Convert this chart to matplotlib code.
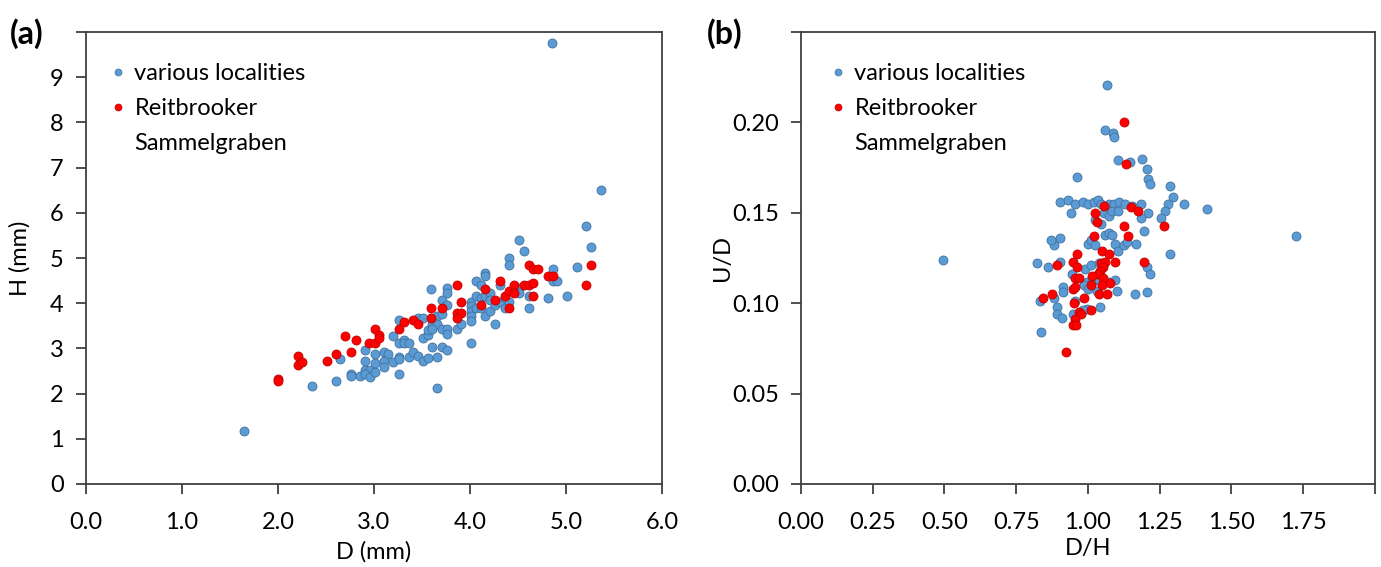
import numpy as np
import matplotlib.pyplot as plt
from matplotlib.lines import Line2D

plt.rcParams['font.family'] = ['Lato', 'DejaVu Sans']

# panel (a): shell diameter D vs height H (mm)
d_various = [1.65, 2.35, 2.60, 2.65, 2.76, 2.76, 2.85, 2.91, 2.91, 2.91, 2.96, 2.91, 2.96,
             3.01, 3.01, 3.01, 3.10, 3.15, 3.10, 3.10, 3.20, 3.26, 3.20, 3.26, 3.31, 3.31,
             3.36, 3.26, 3.26, 3.26, 3.36, 3.41, 3.46, 3.51, 3.56, 3.46, 3.51, 3.51, 3.56,
             3.56, 3.59, 3.60, 3.66, 3.60, 3.66, 3.71, 3.76, 3.76, 3.60, 3.76, 3.76, 3.71,
             3.76, 3.71, 3.71, 3.76, 3.66, 3.60, 3.66, 3.86, 3.91, 4.01, 4.01, 4.01, 4.01,
             4.01, 4.01, 4.06, 4.06, 4.06, 4.11, 4.11, 4.11, 4.16, 4.16, 4.16, 4.16, 4.21,
             4.21, 4.21, 4.26, 4.26, 4.31, 4.31, 4.36, 4.36, 4.41, 4.41, 4.41, 4.51, 4.56,
             4.51, 4.51, 4.61, 4.61, 4.81, 4.86, 4.91, 4.86, 5.01, 5.11, 5.21, 5.26, 5.36,
             4.85]
h_various = [1.17, 2.17, 2.27, 2.77, 2.43, 2.38, 2.38, 2.97, 2.73, 2.53, 2.53, 2.43, 2.36,
             2.48, 2.88, 2.68, 2.92, 2.88, 2.73, 2.58, 2.69, 3.63, 3.27, 3.13, 3.19, 3.13,
             3.13, 2.82, 2.76, 2.43, 2.82, 2.92, 2.83, 2.73, 2.78, 3.68, 3.68, 3.22, 3.30,
             3.40, 4.32, 3.45, 3.71, 3.53, 3.53, 3.42, 3.42, 3.32, 3.42, 4.34, 4.23, 4.08,
             3.97, 3.77, 3.03, 2.97, 2.82, 3.03, 2.13, 3.42, 3.53, 4.03, 3.94, 3.83, 3.72,
             3.60, 3.13, 3.89, 4.17, 4.50, 3.89, 4.12, 4.40, 4.66, 4.60, 4.17, 3.72, 4.23,
             4.08, 3.83, 3.97, 3.53, 4.03, 4.40, 4.12, 3.89, 4.03, 5.00, 4.85, 5.40, 5.15,
             4.34, 4.23, 4.17, 3.89, 4.12, 4.50, 4.50, 4.75, 4.17, 4.81, 5.70, 5.25, 6.51,
             9.76]
d_reit = [2.00, 2.00, 2.21, 2.21, 2.25, 2.51, 2.60, 2.70, 2.76, 2.81, 2.95, 3.01, 3.01,
          3.05, 3.05, 3.31, 3.26, 3.41, 3.46, 3.59, 3.59, 3.71, 3.86, 3.86, 3.91, 3.86,
          3.91, 4.11, 4.16, 4.26, 4.31, 4.36, 4.41, 4.46, 4.46, 4.41, 4.56, 4.61, 4.66,
          4.66, 4.61, 4.66, 4.71, 4.81, 4.86, 5.21, 5.26]
h_reit = [2.32, 2.27, 2.83, 2.63, 2.69, 2.72, 2.88, 3.28, 2.93, 3.18, 3.13, 3.13, 3.43,
          3.29, 3.23, 3.58, 3.42, 3.63, 3.53, 3.89, 3.68, 3.89, 4.40, 3.78, 3.78, 3.67,
          4.03, 3.97, 4.32, 4.08, 4.50, 4.17, 4.26, 4.40, 4.23, 3.89, 4.40, 4.40, 4.45,
          4.17, 4.85, 4.75, 4.75, 4.61, 4.61, 4.40, 4.85]

# panel (b): D/H vs U/D
dh_various = [0.495, 1.725, 1.415, 1.335, 1.068, 1.061, 1.087, 1.092, 1.103, 1.147, 0.962,
              0.901, 0.931, 0.955, 0.983, 1.000, 1.020, 1.035, 1.046, 1.072, 1.090, 1.107,
              1.130, 1.153, 0.941, 1.055, 1.075, 1.085, 1.105, 1.025, 1.045, 1.060, 1.075,
              1.085, 1.095, 1.105, 1.125, 1.135, 1.168, 1.000, 1.009, 1.023, 0.883, 0.901,
              0.823, 0.862, 0.902, 0.988, 1.012, 1.037, 0.944, 0.996, 1.014, 1.037, 1.072,
              1.095, 0.985, 1.000, 1.030, 1.102, 0.914, 0.914, 0.881, 0.833, 0.956, 1.042,
              0.892, 0.892, 0.908, 0.996, 0.982, 0.947, 0.837, 1.165, 1.190, 1.205, 1.210,
              1.215, 1.285, 1.295, 1.280, 1.270, 1.255, 1.210, 1.185, 1.195, 1.285, 1.205,
              1.215, 1.205, 1.185, 0.870]
ud_various = [0.124, 0.137, 0.152, 0.155, 0.221, 0.196, 0.194, 0.192, 0.179, 0.178, 0.170,
              0.156, 0.157, 0.155, 0.156, 0.155, 0.156, 0.157, 0.155, 0.155, 0.155, 0.156,
              0.155, 0.154, 0.150, 0.150, 0.148, 0.151, 0.151, 0.146, 0.144, 0.138, 0.139,
              0.138, 0.133, 0.129, 0.132, 0.134, 0.133, 0.133, 0.135, 0.132, 0.132, 0.136,
              0.122, 0.120, 0.123, 0.119, 0.121, 0.122, 0.116, 0.112, 0.112, 0.113, 0.112,
              0.113, 0.110, 0.108, 0.107, 0.107, 0.109, 0.106, 0.103, 0.101, 0.101, 0.098,
              0.098, 0.094, 0.092, 0.097, 0.096, 0.094, 0.084, 0.105, 0.180, 0.174, 0.169,
              0.166, 0.165, 0.159, 0.155, 0.151, 0.147, 0.150, 0.147, 0.140, 0.127, 0.120,
              0.116, 0.106, 0.155, 0.135]
dh_reit = [1.124, 1.131, 1.057, 1.026, 1.149, 1.173, 1.033, 1.124, 1.141, 1.020, 1.050,
           1.074, 0.963, 0.948, 0.962, 0.892, 1.044, 1.060, 1.095, 1.054, 1.043, 1.035,
           0.954, 0.968, 1.014, 1.054, 1.078, 1.012, 1.049, 0.948, 0.956, 0.845, 0.874,
           1.039, 1.067, 0.987, 0.953, 1.009, 0.968, 0.977, 0.956, 0.947, 0.958, 0.924,
           1.265, 1.195]
ud_reit = [0.200, 0.177, 0.154, 0.150, 0.153, 0.151, 0.145, 0.143, 0.137, 0.137, 0.129,
           0.127, 0.127, 0.123, 0.120, 0.121, 0.122, 0.123, 0.123, 0.120, 0.118, 0.116,
           0.114, 0.114, 0.115, 0.114, 0.111, 0.110, 0.110, 0.108, 0.109, 0.103, 0.105,
           0.105, 0.105, 0.103, 0.100, 0.096, 0.095, 0.094, 0.091, 0.088, 0.088, 0.073,
           0.143, 0.123]

blue = '#5b9bd5'
blue_edge = '#41719c'
red = '#ff0000'
red_edge = '#c00000'
spine_col = '#404040'
fs = 17

fig = plt.figure(figsize=(13.81, 5.67), dpi=100)
ax1 = fig.add_axes([0.0623, 0.1464, 0.4171, 0.797])
ax2 = fig.add_axes([0.5800, 0.1464, 0.4156, 0.797])


def style(ax):
    for s in ax.spines.values():
        s.set_color(spine_col)
        s.set_linewidth(1.3)
    ax.tick_params(direction='out', length=7, width=1.3, color=spine_col,
                   labelsize=fs)
    ax.tick_params(axis='x', pad=13)
    ax.tick_params(axis='y', pad=9)


def add_legend(ax, x0):
    # second label line gets its own row so the marker sits beside "Reitbrooker"
    handles = [
        Line2D([], [], ls='none', marker='o', ms=5, mfc=blue, mec=blue_edge, mew=0.5),
        Line2D([], [], ls='none', marker='o', ms=5, mfc=red, mec=red_edge, mew=0.5),
        Line2D([], [], ls='none'),
    ]
    labels = ['various localities', 'Reitbrooker', 'Sammelgraben']
    ax.legend(handles, labels, loc='upper left', bbox_to_anchor=(x0, 0.932),
              frameon=False, fontsize=fs, handlelength=0.6, handletextpad=0.4,
              labelspacing=0.6, borderaxespad=0, borderpad=0)


# (a)
ax1.scatter(d_various, h_various, s=42, c=blue, edgecolors=blue_edge, linewidths=0.6,
            zorder=2)
ax1.scatter(d_reit, h_reit, s=42, c=red, edgecolors=red_edge, linewidths=0.6, zorder=3)
ax1.set_xlim(0, 6)
ax1.set_ylim(0, 10)
ax1.set_xticks(np.arange(0, 7, 1))
ax1.set_xticklabels([f'{v:.1f}' for v in np.arange(0, 7, 1)])
ax1.set_yticks(np.arange(0, 11, 1))
ax1.set_yticklabels([str(v) for v in range(10)] + [''])
ax1.set_xlabel('D (mm)', fontsize=fs, labelpad=6)
ax1.set_ylabel('H (mm)', fontsize=fs, labelpad=14)
style(ax1)
add_legend(ax1, 0.043)
fig.text(0.007, 0.94, '(a)', fontsize=23, fontweight='bold', va='center')

# (b)
ax2.scatter(dh_various, ud_various, s=42, c=blue, edgecolors=blue_edge, linewidths=0.6,
            zorder=2)
ax2.scatter(dh_reit, ud_reit, s=42, c=red, edgecolors=red_edge, linewidths=0.6, zorder=3)
ax2.set_xlim(0, 2)
ax2.set_ylim(0, 0.25)
xt = np.arange(0, 2.01, 0.25)
ax2.set_xticks(xt)
ax2.set_xticklabels([f'{v:.2f}' for v in xt[:-1]] + [''])
yt = np.arange(0, 0.251, 0.05)
ax2.set_yticks(yt)
ax2.set_yticklabels([f'{v:.2f}' for v in yt[:-1]] + [''])
ax2.set_xlabel('D/H', fontsize=fs, labelpad=4)
ax2.set_ylabel('U/D', fontsize=fs, labelpad=-1)
style(ax2)
add_legend(ax2, 0.052)
fig.text(0.512, 0.94, '(b)', fontsize=23, fontweight='bold', va='center')

fig.savefig('out.png', dpi=100)
